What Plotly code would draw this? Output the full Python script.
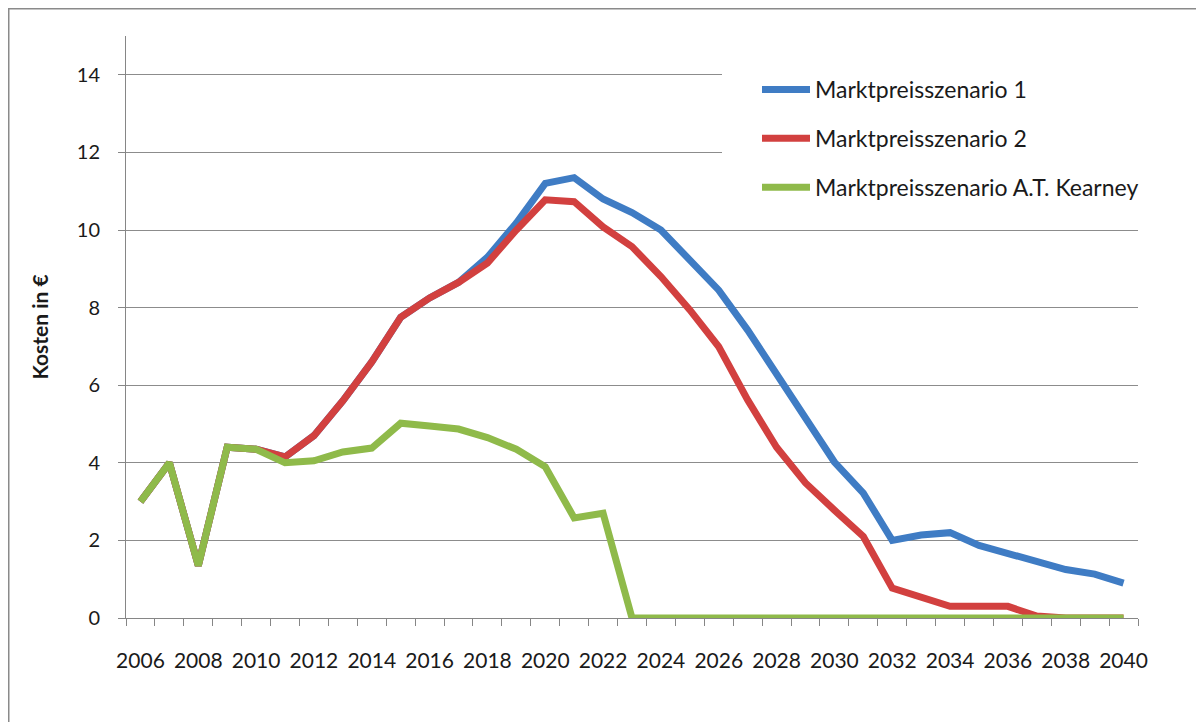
import plotly.graph_objects as go

years = [str(y) for y in range(2006, 2041)]

szenario1 = [3.0, 4.0, 1.35, 4.4, 4.35, 4.15, 4.7, 5.6, 6.6, 7.75, 8.25, 8.65, 9.3, 10.18,
             11.2, 11.35, 10.8, 10.45, 10.0, 9.23, 8.45, 7.42, 6.3, 5.18, 4.02, 3.22,
             2.0, 2.14, 2.2, 1.87, 1.67, 1.43, 1.25, 1.13, 0.9]
szenario2 = [3.0, 4.0, 1.35, 4.4, 4.35, 4.15, 4.7, 5.6, 6.6, 7.75, 8.25, 8.65, 9.15, 10.0,
             10.78, 10.73, 10.08, 9.57, 8.8, 7.94, 6.99, 5.62, 4.4, 3.48, 2.78, 2.1,
             0.77, 0.55, 0.3, 0.3, 0.3, 0.05, 0.0, 0.0, 0.0]
kearney = [3.0, 4.0, 1.35, 4.4, 4.35, 4.0, 4.05, 4.28, 4.38, 5.02, 4.95, 4.87, 4.65, 4.35,
           3.9, 2.58, 2.7, 0.0, 0.0, 0.0, 0.0, 0.0, 0.0, 0.0, 0.0, 0.0, 0.0, 0.0, 0.0,
           0.0, 0.0, 0.0, 0.0, 0.0, 0.0]

series_names = ["Marktpreisszenario 1", "Marktpreisszenario 2", "Marktpreisszenario A.T. Kearney"]
series_colors = ["#3F7CC4", "#D2403F", "#8FBA4A"]
y_ticks = [0, 2, 4, 6, 8, 10, 12, 14]

FONT = "Lato"
TXT = "#1a1a1a"

# page offset (default body margin of the html page)
OFF = 8
W, H = 1204 - OFF, 722 - OFF
# plot area in page pixels
PL, PR, PT, PB = 126, 1138, 36, 618
L, R, T, B = PL - OFF, (1204 - PR), PT - OFF, (722 - PB)
pw, ph = W - L - R, H - T - B


def px_x(p):
    return (p - OFF - L) / pw


def px_y(p):
    return (H - B - (p - OFF)) / ph


fig = go.Figure()
for name, vals, col in zip(series_names, [szenario1, szenario2, kearney], series_colors):
    fig.add_trace(go.Scatter(
        x=years, y=vals, name=name, mode="lines", legendgroup=name,
        line=dict(color=col, width=7, shape="linear"),
    ))

shapes = [
    # white area behind legend (covers gridlines like the original)
    dict(type="rect", xref="paper", yref="paper", layer="above",
         x0=px_x(722), x1=px_x(1150), y0=px_y(214), y1=px_y(55),
         fillcolor="white", line=dict(width=0)),
    # outer frame (top and left edges visible)
    dict(type="line", xref="paper", yref="paper", x0=px_x(OFF), x1=px_x(1204),
         y0=px_y(OFF + 0.5), y1=px_y(OFF + 0.5), line=dict(color="#8a8a8a", width=2)),
    dict(type="line", xref="paper", yref="paper", x0=px_x(OFF + 0.5), x1=px_x(OFF + 0.5),
         y0=px_y(OFF), y1=px_y(722), line=dict(color="#8a8a8a", width=2)),
]

fig.update_layout(
    width=W, height=H,
    margin=dict(l=L, r=R, t=T, b=B, pad=0, autoexpand=False),
    paper_bgcolor="white", plot_bgcolor="white",
    font=dict(family=FONT, size=18, color=TXT),
    showlegend=True,
    legend=dict(
        x=px_x(757), y=px_y(68), xanchor="left", yanchor="top",
        bgcolor="rgba(0,0,0,0)", borderwidth=0,
        font=dict(family=FONT, size=23, color=TXT),
        tracegroupgap=16, itemwidth=48,
    ),
    shapes=shapes,
    xaxis=dict(
        type="category", categoryorder="array", categoryarray=years,
        range=[-0.5, len(years) - 0.5],
        tickmode="array", tickvals=years,
        ticktext=[y if int(y) % 2 == 0 else "" for y in years],
        tickangle=0,
        tickson="boundaries", ticks="outside", ticklen=7, tickwidth=1, tickcolor="#868686",
        showline=True, linecolor="#868686", linewidth=1,
        showgrid=False, zeroline=False, automargin=False,
        tickfont=dict(family=FONT, size=21, color=TXT),
        ticklabelstandoff=24,
    ),
    yaxis=dict(
        range=[0, 15], tickmode="array", tickvals=y_ticks,
        ticks="outside", ticklen=7, tickwidth=1, tickcolor="#868686",
        showline=True, linecolor="#868686", linewidth=1,
        showgrid=True, gridcolor="#8c8c8c", gridwidth=1, zeroline=False,
        automargin=False,
        tickfont=dict(family=FONT, size=20, color=TXT),
        ticklabelstandoff=14,
        title=dict(text="Kosten in €", standoff=22,
                   font=dict(family=FONT, size=21, color=TXT, weight="bold")),
    ),
)

fig.write_html("out.html")
